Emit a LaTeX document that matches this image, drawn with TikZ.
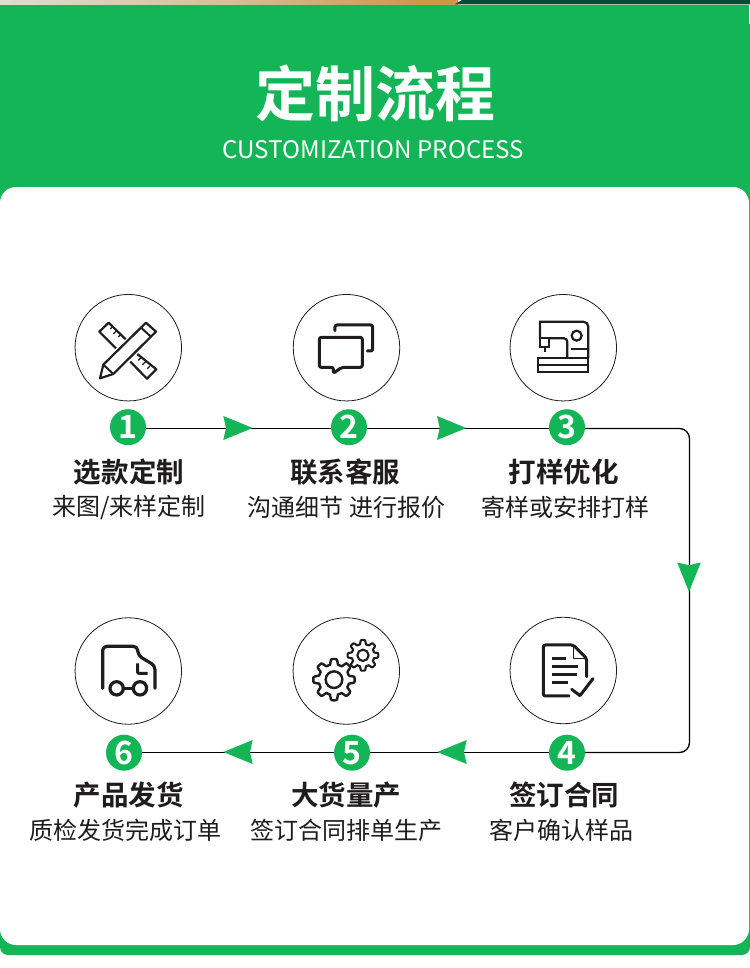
\documentclass[tikz,border=0pt]{standalone}
\usepackage{fontspec}
\setmainfont{Noto Sans CJK SC}[BoldFont={Noto Sans CJK SC Bold}]
\definecolor{brandgreen}{RGB}{20,181,86}
\definecolor{inkc}{RGB}{30,28,28}
\definecolor{topdark}{RGB}{8,74,52}
\definecolor{stripa}{RGB}{225,220,210}
\definecolor{stripb}{RGB}{215,190,150}
\definecolor{stripc}{RGB}{210,150,80}
\definecolor{stripd}{RGB}{205,135,50}
\newcommand{\szt}[1]{\fontsize{#1bp}{#1bp}\selectfont}
\pgfdeclarehorizontalshading{stripshade}{100bp}{
  color(0bp)=(white);
  color(25bp)=(stripa);
  color(50bp)=(stripb);
  color(70bp)=(stripc);
  color(100bp)=(stripd)}
\tikzset{
  ringnode/.style={circle,draw=inkc,line width=0.8bp,minimum size=106.5bp,inner sep=0pt},
  badge/.style={circle,fill=brandgreen,text=white,minimum size=36bp,inner sep=0pt,font=\bfseries\szt{32}},
  headtext/.style={font=\bfseries\szt{27.5},text=inkc,inner sep=0pt,anchor=center},
  subtext/.style={font=\szt{24},text=inkc,inner sep=0pt,anchor=center},
  flow/.style={line width=1.3bp,draw=black},
  icon/.style={draw=inkc,line width=3bp,line cap=round,line join=round},
  thinicon/.style={draw=inkc,line width=2.2bp,line cap=butt,line join=miter},
  tip/.style={fill=brandgreen,draw=none}
}
\begin{document}
\begin{tikzpicture}[x=1bp,y=-1bp]
\useasboundingbox (0,0) rectangle (750,968);
% top strip
\shade[shading=stripshade] (0,0) rectangle (458,4.3);
\fill[topdark] (462,0) -- (750,0) -- (750,4.3) -- (455,4.3) -- cycle;
% green panel
\fill[brandgreen] (0,5) -- (750,5) -- (750,945) [rounded corners=8bp] -- (750,955) -- (0,955) [sharp corners] -- (0,945) -- cycle;
\fill[white] (748.5,5) rectangle (750,24);
% white card
\fill[white,rounded corners=16bp] (0,187) rectangle (749,945);
% title
\node[inner sep=0pt,text=white,font=\bfseries\szt{60}] (title) at (375.5,93) {定制流程};
\node[inner sep=0pt,text=white,font=\szt{24.2}] (subtitle) at (373.5,149.5) {CUSTOMIZATION PROCESS};
% rings
\node[ringnode] (r1) at (128.3,347.7) {};
\node[ringnode] (r2) at (346.5,347.7) {};
\node[ringnode] (r3) at (563.3,347.7) {};
\node[ringnode] (r4) at (563.3,670.5) {};
\node[ringnode] (r5) at (346.3,671) {};
\node[ringnode] (r6) at (128.3,671) {};
% connector geometry
\coordinate (c1) at (689.5,428.5);
\coordinate (c2) at (689.5,752.5);
\node[badge] (b1) at (128,427.2) {1};
\node[badge] (b2) at (349,427.2) {2};
\node[badge] (b3) at (567,427.2) {3};
\node[badge] (b4) at (567,752.7) {4};
\node[badge] (b5) at (352,752.7) {5};
\node[badge] (b6) at (124,752.7) {6};
\draw[flow] ([yshift=-1.3bp]b1.east) -- ([yshift=-1.3bp]b2.west);
\draw[flow] ([yshift=-1.3bp]b2.east) -- ([yshift=-1.3bp]b3.west);
\draw[flow,rounded corners=10bp] ([yshift=-1.3bp]b3.east) -- (c1) -- (c2) -- ([yshift=0.2bp]b4.east);
\draw[flow] ([yshift=0.2bp]b4.west) -- ([yshift=0.2bp]b5.east);
\draw[flow] ([yshift=0.2bp]b5.west) -- ([yshift=0.2bp]b6.east);
% arrowheads
\fill[tip] (252.7,428) -- (223.3,416) -- (226,428) -- (223.3,440) -- cycle;
\fill[tip] (466.3,428) -- (437,416) -- (439.7,428) -- (437,440) -- cycle;
\fill[tip] (689,591.7) -- (677.2,562.5) -- (689,565.2) -- (700.8,562.5) -- cycle;
\fill[tip] (437.3,752) -- (466.7,740) -- (464,752) -- (466.7,764) -- cycle;
\fill[tip] (223.3,752) -- (252.7,740) -- (250,752) -- (252.7,764) -- cycle;
% labels
\node[headtext] (h1) at (129,472) {选款定制};
\node[subtext] (s1) at (129,507.5) {来图/来样定制};
\node[headtext] (h2) at (345,472) {联系客服};
\node[subtext] (s2) at (346.5,507.5) {沟通细节 进行报价};
\node[headtext] (h3) at (563.5,472) {打样优化};
\node[subtext] (s3) at (565,507.5) {寄样或安排打样};
\node[headtext] (h4) at (564,795) {签订合同};
\node[subtext] (s4) at (561,830.5) {客户确认样品};
\node[headtext] (h5) at (346,795) {大货量产};
\node[subtext] (s5) at (346,830.5) {签订合同排单生产};
\node[headtext] (h6) at (128.5,795) {产品发货};
\node[subtext] (s6) at (125.5,830.5) {质检发货完成订单};
% icon 1: pencil and ruler
\begin{scope}[shift={(60,280)},x=0.3333bp,y=-0.3333bp]
\draw[icon,line width=2.2bp,line cap=butt] (168,205) -- (118,155) -- (146,128) -- (197,178);
\draw[icon,line width=2.2bp,line cap=butt] (232,222) -- (289,268) -- (261,296) -- (211,245);
\draw[icon,line width=1.3bp,line cap=butt] (158,140) -- (151,147) (170,152) -- (160,162) (182,164) -- (175,171)
  (243,233) -- (235,241) (257,245) -- (247,255) (270,258) -- (262,266);
\draw[icon,line width=2.2bp,line cap=butt] (120,295) -- (130,254) -- (258,128) -- (288,155) -- (160,282) -- cycle;
\draw[icon,line width=2bp,line cap=butt] (243,143) -- (273,170) (130,254) -- (160,282);
\end{scope}
% icon 2: speech bubbles
\begin{scope}[shift={(280,280)},x=0.3333bp,y=-0.3333bp]
\draw[icon,rounded corners=2bp] (118,172) -- (247,172) -- (247,262) -- (185,262) -- (160,280) -- (160,262) -- (118,262) -- cycle;
\draw[icon,rounded corners=2bp] (165,152) -- (165,135) -- (278,135) -- (278,213) -- (262,213);
\end{scope}
% icon 3: sewing machine
\begin{scope}[shift={(490,280)},x=0.3333bp,y=-0.3333bp]
\draw[thinicon] (150,175) -- (150,125) -- (280,125) to[out=0,in=90] (295,140) -- (295,235);
\draw[thinicon] (150,175) -- (150,200) -- (178,200) -- (178,175) -- cycle;
\draw[thinicon] (178,175) -- (222,175) to[out=0,in=90] (232,185) -- (232,235);
\draw[thinicon] (164,200) -- (164,217);
\draw[thinicon] (260,167) circle[radius=15];
\draw[thinicon] (243,208) -- (295,208);
\draw[thinicon] (143,235) rectangle (295,275);
\draw[thinicon] (143,255) -- (295,255);
\end{scope}
% icon 4: document with check
\begin{scope}[shift={(490,560)},x=0.3333bp,y=-0.3333bp]
\draw[icon,rounded corners=2bp] (237,408) -- (160,408) -- (160,255) -- (250,255) -- (290,295) -- (290,350);
\draw[icon,line width=1.3bp] (250,255) -- (250,295) -- (290,295);
\draw[icon,line cap=butt] (187,295) -- (228,295) (187,319) -- (265,319) (187,343) -- (260,343) (187,367) -- (235,367);
\draw[icon] (245,388) -- (270,407) -- (309,356);
\end{scope}
% icon 5: gears
\begin{scope}[shift={(280,605)},x=0.3333bp,y=-0.3333bp]
\draw[icon,line width=2.4bp] plot[smooth cycle,domain=0:358,samples=120,variable=\t]
  ({162+(54+8*max(-1,min(1,2.2*cos(8*\t))))*cos(\t)},{224+(54+8*max(-1,min(1,2.2*cos(8*\t))))*sin(\t)});
\draw[icon,line width=2.4bp] (162,224) circle[radius=25];
\draw[icon,line width=2.1bp] plot[smooth cycle,domain=0:358,samples=120,variable=\t]
  ({249+(40+6*max(-1,min(1,2.2*cos(8*\t))))*cos(\t)},{151+(40+6*max(-1,min(1,2.2*cos(8*\t))))*sin(\t)});
\draw[icon,line width=2.1bp] (249,151) circle[radius=17];
\end{scope}
% icon 6: truck
\begin{scope}[shift={(60,605)},x=0.3333bp,y=-0.3333bp]
\draw[icon,line width=3.2bp,rounded corners=4bp] (128,250) -- (128,124) -- (232,124) -- (235,152) -- (285,182) -- (285,250);
\draw[icon,line cap=butt,rounded corners=1bp] (233,175) -- (233,205) -- (263,205);
\draw[icon,line width=3.2bp] (170,250) circle[radius=20];
\draw[icon,line width=3.2bp] (240,250) circle[radius=20];
\draw[icon,line width=3.2bp] (190,250) -- (220,250);
\end{scope}
\end{tikzpicture}
\end{document}
